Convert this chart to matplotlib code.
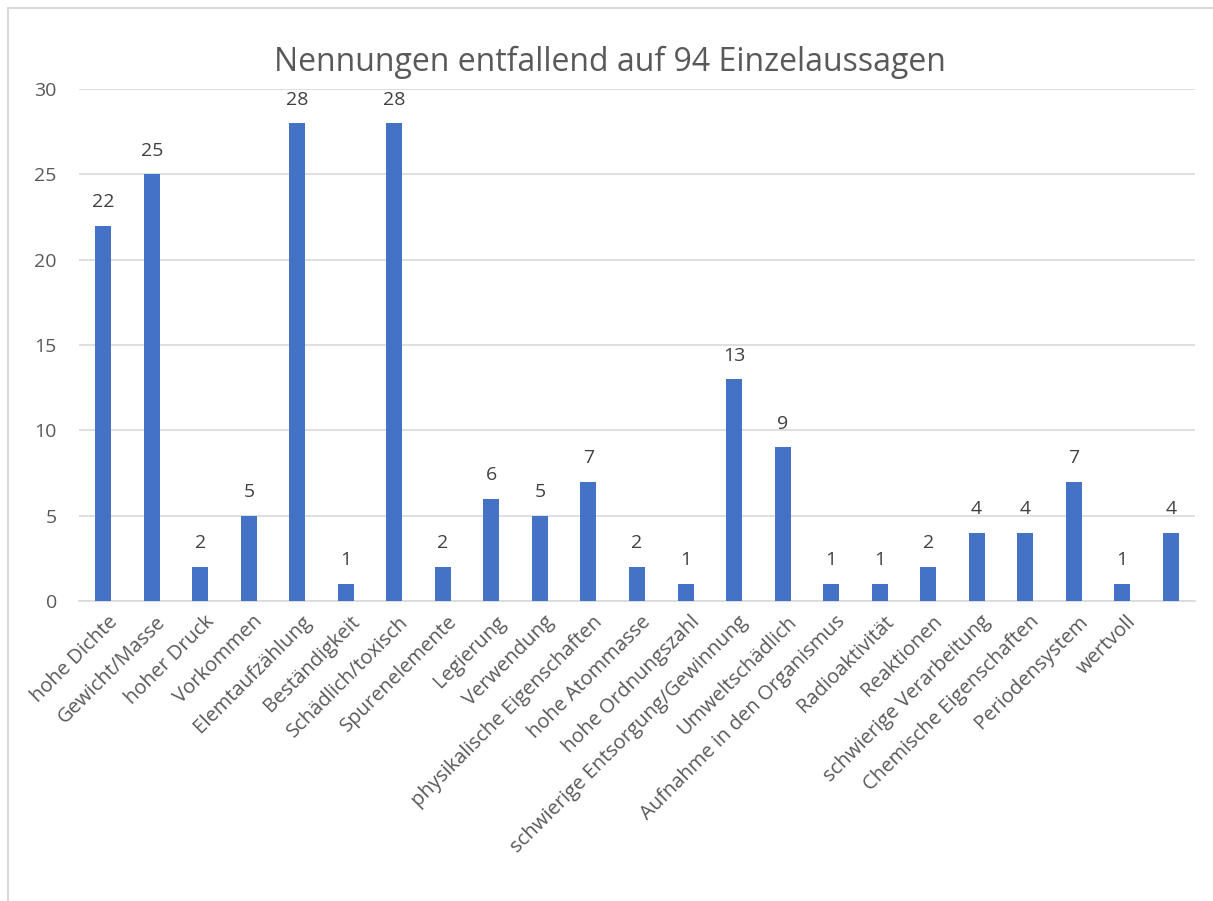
import matplotlib
matplotlib.use("Agg")
import matplotlib.pyplot as plt
from matplotlib.lines import Line2D
import matplotlib.transforms as mtransforms

categories = ["hohe Dichte", "Gewicht/Masse", "hoher Druck", "Vorkommen", "Elemtaufzählung",
              "Beständigkeit", "Schädlich/toxisch", "Spurenelemente", "Legierung", "Verwendung",
              "physikalische Eigenschaften", "hohe Atommasse", "hohe Ordnungszahl",
              "schwierige Entsorgung/Gewinnung", "Umweltschädlich", "Aufnahme in den Organismus",
              "Radioaktivität", "Reaktionen", "schwierige Verarbeitung", "Chemische Eigenschaften",
              "Periodensystem", "wertvoll", ""]
values = [22, 25, 2, 5, 28, 1, 28, 2, 6, 5, 7, 2, 1, 13, 9, 1, 1, 2, 4, 4, 7, 1, 4]
title = "Nennungen entfallend auf 94 Einzelaussagen"
yticks = [0, 5, 10, 15, 20, 25, 30]

plt.rcParams['font.family'] = ['Open Sans', 'DejaVu Sans']
text_color = "#595959"
bar_color = "#4472C4"

W, H = 1213, 901
fig = plt.figure(figsize=(W / 100, H / 100), dpi=100)

# chart frame (top and left edges visible)
fig.add_artist(Line2D([7.5 / W, 1212 / W], [1 - 8 / H, 1 - 8 / H], color="#D9D9D9", lw=1.5,
                      transform=fig.transFigure))
fig.add_artist(Line2D([7.5 / W, 7.5 / W], [1 - 8 / H, 0], color="#D9D9D9", lw=1.5,
                      transform=fig.transFigure))

ax = fig.add_axes([79 / W, 1 - 601 / H, (1195 - 79) / W, (601 - 89) / H])
x = list(range(len(values)))
ax.bar(x, values, width=0.33, color=bar_color, zorder=3)
for xi, v in zip(x, values):
    ax.text(xi, v + 0.85, str(v), ha="center", va="bottom", fontsize=14, color="#404040")

ax.set_xlim(-0.5, len(values) - 0.5)
ax.set_ylim(0, 30)
ax.set_yticks(yticks)
ax.set_yticklabels([str(t) for t in yticks], fontsize=14, color=text_color)
ax.yaxis.grid(True, color="#D9D9D9", lw=1.2, zorder=0)
ax.tick_params(axis="both", length=0)
ax.tick_params(axis="y", pad=16)
for s in ["top", "right", "left"]:
    ax.spines[s].set_visible(False)
ax.spines["bottom"].set_color("#D9D9D9")
ax.spines["bottom"].set_linewidth(1.2)

ax.set_xticks(x)
ax.set_xticklabels(categories, rotation=45, ha="right", rotation_mode="anchor",
                   fontsize=14.5, color=text_color)
for lab in ax.get_xticklabels():
    lab.set_transform(lab.get_transform() + mtransforms.ScaledTranslation(4 / 100, -6 / 100, fig.dpi_scale_trans))

fig.text(610 / W, 1 - 62 / H, title, ha="center", va="center", fontsize=23, color=text_color)

fig.savefig("out.png", dpi=100)
